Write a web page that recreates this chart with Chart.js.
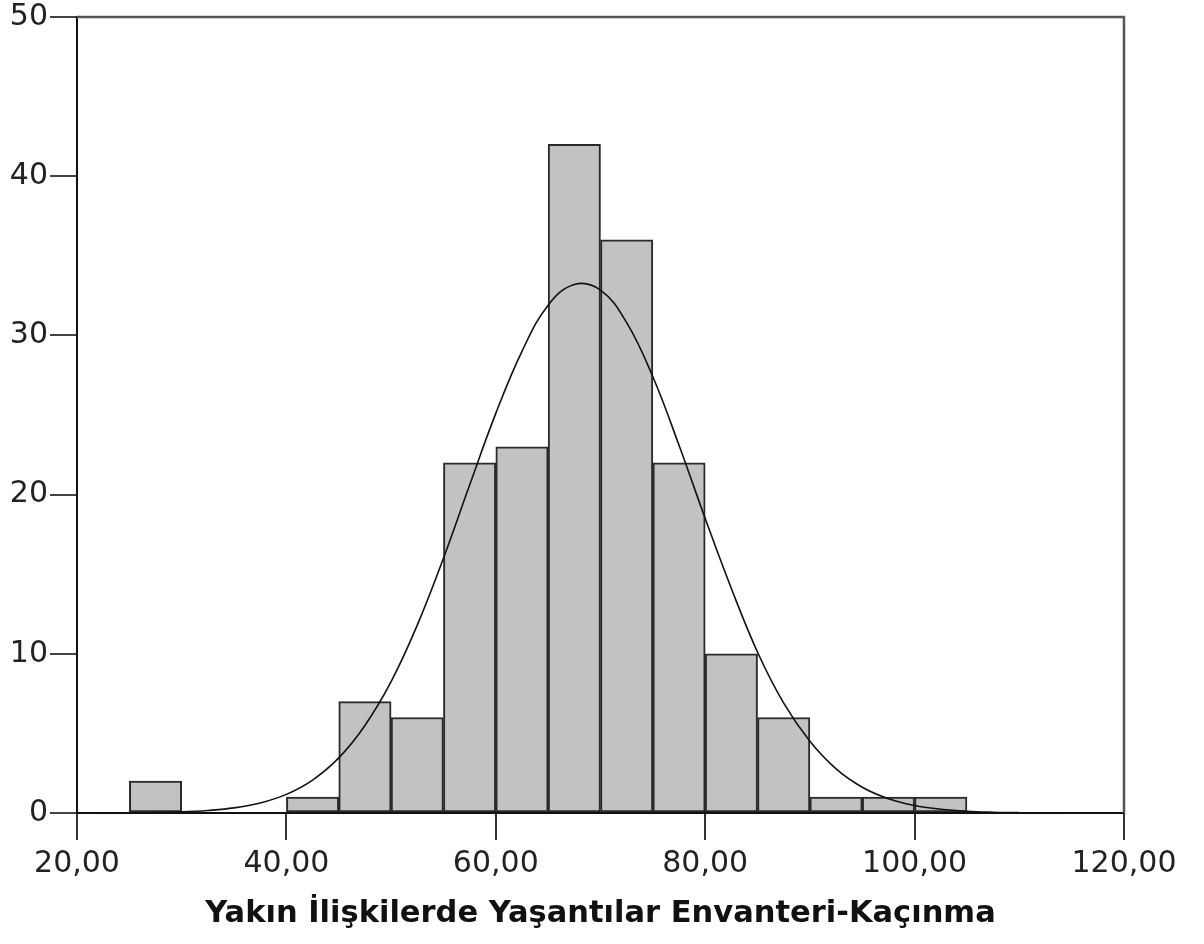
<!DOCTYPE html>
<html lang="tr">

<head>
    <meta charset="UTF-8">
    <title>Histogram - Kaçınma</title>
    <script src="https://cdn.jsdelivr.net/npm/chart.js"></script>
    <style>
        body { margin: 0; background: #fff; }
        canvas { display: block; }
    </style>
</head>

<body>
    <canvas id="histChart" width="1204" height="944"></canvas>
    <script>
        // Histogram bins (center of each 5-point bin) and frequencies
        const binCenters = [27.5, 32.5, 37.5, 42.5, 47.5, 52.5, 57.5, 62.5, 67.5, 72.5, 77.5, 82.5, 87.5, 92.5, 97.5, 102.5];
        const counts = [2, 0, 0, 1, 7, 6, 22, 23, 42, 36, 22, 10, 6, 1, 1, 1];

        // Normal curve
        const curveX = [20, 22.5, 25, 27.5, 30, 32.5, 35, 37.5, 40, 42.5, 45, 47.5, 50, 52.5, 55, 57.5, 60, 62.5, 65, 67.5,
            70, 72.5, 75, 77.5, 80, 82.5, 85, 87.5, 90, 92.5, 95, 97.5, 100, 102.5, 105, 107.5, 110, 112.5, 115, 117.5, 120];
        const curveY = [0.002, 0.005, 0.013, 0.03, 0.07, 0.16, 0.32, 0.63, 1.17, 2.07, 3.46, 5.5, 8.25, 11.8, 16.0, 20.6, 25.1, 29.0, 31.9, 33.2,
            32.85, 30.8, 27.4, 23.1, 18.5, 14.1, 10.1, 6.9, 4.5, 2.77, 1.62, 0.9, 0.47, 0.24, 0.11, 0.05, 0.02, 0.008, 0.003, 0.001, 0.0004];

        const xTicks = [20, 40, 60, 80, 100, 120];
        const yTicks = [0, 10, 20, 30, 40, 50];
        const xTitle = 'Yakın İlişkilerde Yaşantılar Envanteri-Kaçınma';

        // draws the top and right edges of the plot frame
        const framePlugin = {
            id: 'frame',
            afterDraw(chart) {
                const { ctx, chartArea } = chart;
                ctx.save();
                ctx.strokeStyle = '#555';
                ctx.lineWidth = 2.5;
                ctx.beginPath();
                ctx.moveTo(chartArea.left, chartArea.top);
                ctx.lineTo(chartArea.right, chartArea.top);
                ctx.lineTo(chartArea.right, chartArea.bottom);
                ctx.stroke();
                ctx.restore();
            }
        };

        const ctx = document.getElementById('histChart').getContext('2d');
        new Chart(ctx, {
            data: {
                datasets: [
                    {
                        type: 'line',
                        data: curveX.map((x, i) => ({ x: x, y: curveY[i] })),
                        borderColor: '#111',
                        borderWidth: 1.6,
                        pointRadius: 0,
                        tension: 0.4,
                        fill: false,
                        order: 0
                    },
                    {
                        type: 'bar',
                        data: binCenters.map((x, i) => ({ x: x, y: counts[i] })),
                        backgroundColor: '#c2c2c2',
                        borderColor: '#2a2a2a',
                        borderWidth: 2,
                        borderSkipped: false,
                        barPercentage: 1,
                        categoryPercentage: 1,
                        order: 1
                    }
                ]
            },
            options: {
                responsive: false,
                animation: false,
                layout: { padding: { top: 16, right: 80, left: 0, bottom: 0 } },
                plugins: {
                    legend: { display: false },
                    tooltip: { enabled: false }
                },
                scales: {
                    x: {
                        type: 'linear',
                        min: 20,
                        max: 120,
                        offset: false,
                        afterBuildTicks: (scale) => { scale.ticks = xTicks.map(v => ({ value: v })); },
                        afterFit: (scale) => { scale.height = 131; },
                        grid: { offset: false, drawOnChartArea: false, drawTicks: true, tickLength: 27, color: '#333', lineWidth: 2 },
                        border: { display: true, color: '#111', width: 2 },
                        ticks: {
                            padding: 9,
                            color: '#222',
                            font: { family: 'DejaVu Sans', size: 30, lineHeight: 1 },
                            callback: (v) => v.toFixed(2).replace('.', ',')
                        },
                        title: {
                            display: true,
                            text: xTitle,
                            color: '#111',
                            padding: { top: 0, bottom: 12 },
                            font: { family: 'DejaVu Sans', size: 30.5, weight: 'bold', lineHeight: 1.2 }
                        }
                    },
                    y: {
                        min: 0,
                        max: 50,
                        afterBuildTicks: (scale) => { scale.ticks = yTicks.map(v => ({ value: v })); },
                        afterFit: (scale) => { scale.width = 77; },
                        grid: { drawOnChartArea: false, drawTicks: true, tickLength: 27, color: '#444', lineWidth: 2 },
                        border: { display: true, color: '#111', width: 2 },
                        ticks: {
                            padding: 2,
                            color: '#222',
                            font: { family: 'DejaVu Sans', size: 30, lineHeight: 1 }
                        }
                    }
                }
            },
            plugins: [framePlugin]
        });
    </script>
</body>

</html>
